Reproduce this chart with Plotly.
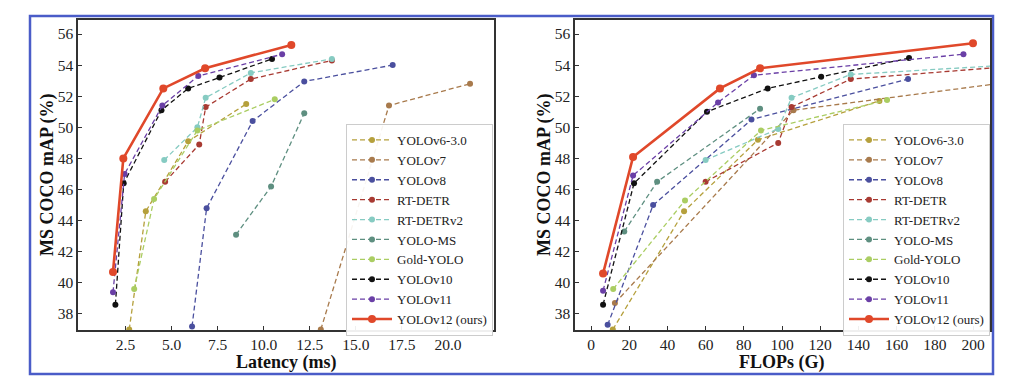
import plotly.graph_objects as go

# page body has an 8px margin; figure is sized so it fits the 1024x384 window
OFF = 8
W, H = 1024 - 2 * OFF, 384 - 2 * OFF

names = ["YOLOv6-3.0", "YOLOv7", "YOLOv8", "RT-DETR", "RT-DETRv2", "YOLO-MS",
         "Gold-YOLO", "YOLOv10", "YOLOv11", "YOLOv12 (ours)"]
colors = ["#b5a03c", "#a87a4c", "#4a4f9e", "#a83a32", "#86cbc2", "#5e8f80",
          "#aacd62", "#111111", "#6a3fa6", "#e0482a"]

# ---- Latency (ms) vs mAP ----
lat_v6 = [2.7, 3.6, 5.9, 9.05]
map_lat_v6 = [37.0, 44.6, 49.1, 51.5]
lat_v7 = [13.1, 16.8, 21.2]
map_lat_v7 = [37.0, 51.4, 52.8]
lat_v8 = [6.11, 6.9, 9.4, 12.2, 17.0]
map_lat_v8 = [37.2, 44.8, 50.4, 52.95, 54.0]
lat_rtdetr = [4.65, 6.5, 6.85, 9.3, 13.7]
map_lat_rtdetr = [46.5, 48.9, 51.3, 53.1, 54.3]
lat_rtdetr2 = [4.6, 6.4, 6.85, 9.3, 13.7]
map_lat_rtdetr2 = [47.9, 50.0, 51.9, 53.5, 54.4]
lat_ms = [8.5, 10.4, 12.2]
map_lat_ms = [43.1, 46.2, 50.9]
lat_gold = [2.97, 4.05, 6.4, 10.6]
map_lat_gold = [39.6, 45.4, 49.8, 51.8]
lat_v10 = [1.95, 2.4, 4.45, 5.9, 7.6, 10.45]
map_lat_v10 = [38.6, 46.4, 51.1, 52.5, 53.2, 54.4]
lat_v11 = [1.82, 2.45, 4.5, 6.45, 11.0]
map_lat_v11 = [39.4, 47.0, 51.4, 53.3, 54.7]
lat_v12 = [1.82, 2.38, 4.55, 6.82, 11.5]
map_lat_v12 = [40.7, 48.0, 52.5, 53.8, 55.3]

# ---- FLOPs (G) vs mAP ----
flops_v6 = [11.4, 48.7, 87.4, 151.0]
map_fl_v6 = [37.0, 44.6, 49.2, 51.7]
flops_v7 = [12.5, 106.0, 225.0]
map_fl_v7 = [38.7, 51.1, 53.0]
flops_v8 = [8.7, 32.5, 84.0, 166.0]
map_fl_v8 = [37.3, 45.0, 50.5, 53.1]
flops_rtdetr = [60.0, 98.0, 105.0, 136.0, 259.0]
map_fl_rtdetr = [46.5, 49.0, 51.3, 53.1, 54.3]
flops_rtdetr2 = [60.0, 98.0, 105.0, 136.0, 259.0]
map_fl_rtdetr2 = [47.9, 49.9, 51.9, 53.4, 54.3]
flops_ms = [17.4, 34.6, 88.5]
map_fl_ms = [43.3, 46.5, 51.2]
flops_gold = [11.6, 49.2, 89.0, 155.0]
map_fl_gold = [39.6, 45.3, 49.8, 51.75]
flops_v10 = [6.3, 22.5, 60.7, 92.5, 120.5, 166.5]
map_fl_v10 = [38.6, 46.4, 51.0, 52.5, 53.25, 54.45]
flops_v11 = [6.3, 22.0, 66.5, 85.3, 195.0]
map_fl_v11 = [39.5, 46.9, 51.6, 53.35, 54.7]
flops_v12 = [6.3, 22.0, 67.5, 88.5, 200.0]
map_fl_v12 = [40.6, 48.1, 52.5, 53.8, 55.4]

lat_series = [(lat_v6, map_lat_v6), (lat_v7, map_lat_v7), (lat_v8, map_lat_v8),
              (lat_rtdetr, map_lat_rtdetr), (lat_rtdetr2, map_lat_rtdetr2),
              (lat_ms, map_lat_ms), (lat_gold, map_lat_gold), (lat_v10, map_lat_v10),
              (lat_v11, map_lat_v11), (lat_v12, map_lat_v12)]
fl_series = [(flops_v6, map_fl_v6), (flops_v7, map_fl_v7), (flops_v8, map_fl_v8),
             (flops_rtdetr, map_fl_rtdetr), (flops_rtdetr2, map_fl_rtdetr2),
             (flops_ms, map_fl_ms), (flops_gold, map_fl_gold), (flops_v10, map_fl_v10),
             (flops_v11, map_fl_v11), (flops_v12, map_fl_v12)]

x_ticks_lat = [2.5, 5.0, 7.5, 10.0, 12.5, 15.0, 17.5, 20.0]
x_ticks_fl = [0, 20, 40, 60, 80, 100, 120, 140, 160, 180, 200]
y_ticks = [38, 40, 42, 44, 46, 48, 50, 52, 54, 56]

FONT = "Liberation Serif, Times New Roman, serif"

fig = go.Figure()

def add(series, xa, ya, leg):
    for i, (xs, ys) in enumerate(series):
        ours = i == len(series) - 1
        fig.add_trace(go.Scatter(
            x=xs, y=ys, mode="lines+markers", name=names[i],
            xaxis=xa, yaxis=ya, legend=leg,
            line=dict(color=colors[i], width=2.6 if ours else 1.3,
                      dash="solid" if ours else "5px,3px"),
            marker=dict(color=colors[i], size=8 if ours else 6),
        ))

add(lat_series, "x", "y", "legend")
add(fl_series, "x2", "y2", "legend2")

def px(x):
    return (x - OFF) / W

def py(y):
    return 1 - (y - OFF) / H

axis_common = dict(showline=True, mirror=True, linecolor="#333", linewidth=1.5,
                   ticks="inside", ticklen=4, tickcolor="#333", showgrid=False,
                   zeroline=False, tickfont=dict(family=FONT, size=15.5, color="#222"))

title_font = dict(family=FONT, size=18, color="#111")
leg_common = dict(xanchor="left", yanchor="top", bgcolor="rgba(255,255,255,0.92)",
                  bordercolor="#cccccc", borderwidth=1, itemwidth=40,
                  font=dict(family=FONT, size=13, color="#222"), tracegroupgap=0)

fig.update_layout(
    width=W, height=H,
    margin=dict(l=0, r=0, t=0, b=0),
    paper_bgcolor="white", plot_bgcolor="white",
    showlegend=True,
    xaxis=dict(domain=[px(78), px(494)], range=[-0.08, 22.5], tickvals=x_ticks_lat,
               ticktext=[f"{v:.1f}" for v in x_ticks_lat], anchor="y", **axis_common),
    yaxis=dict(domain=[py(330), py(20)], range=[36.97, 56.9], tickvals=y_ticks,
               anchor="x", **axis_common),
    xaxis2=dict(domain=[px(575), px(990)], range=[-8.4, 208.9], tickvals=x_ticks_fl,
                anchor="y2", **axis_common),
    yaxis2=dict(domain=[py(330), py(20)], range=[36.97, 56.9], tickvals=y_ticks,
                anchor="x2", **axis_common),
    legend=dict(x=px(346), y=py(124), **leg_common),
    legend2=dict(x=px(843), y=py(124), **leg_common),
    shapes=[dict(type="rect", xref="paper", yref="paper",
                 x0=px(30), x1=px(993), y0=py(374), y1=py(16),
                 line=dict(color="#4a5cc8", width=2.5), layer="below")],
    annotations=[
        dict(text="<b>MS COCO mAP (%)</b>", xref="paper", yref="paper", x=px(47), y=py(175),
             xanchor="center", yanchor="middle", textangle=-90, showarrow=False,
             font=title_font),
        dict(text="<b>MS COCO mAP (%)</b>", xref="paper", yref="paper", x=px(544), y=py(175),
             xanchor="center", yanchor="middle", textangle=-90, showarrow=False,
             font=title_font),
        dict(text="<b>Latency (ms)</b>", xref="paper", yref="paper", x=px(286), y=py(362),
             xanchor="center", yanchor="middle", showarrow=False, font=title_font),
        dict(text="<b>FLOPs (G)</b>", xref="paper", yref="paper", x=px(782), y=py(362),
             xanchor="center", yanchor="middle", showarrow=False, font=title_font),
    ],
)

fig.write_html("out.html")
